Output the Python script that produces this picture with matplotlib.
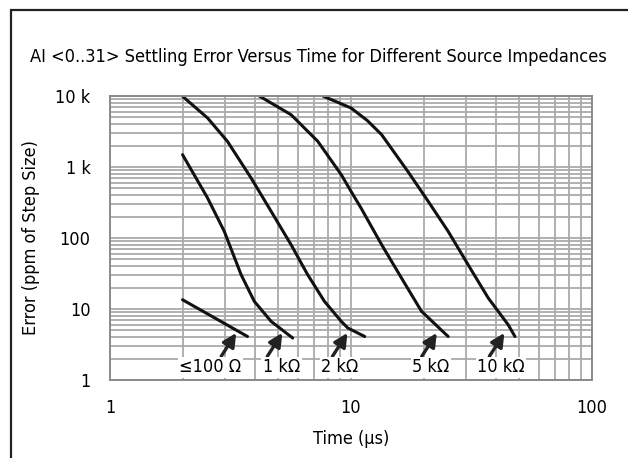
import matplotlib
matplotlib.use("Agg")
import matplotlib.pyplot as plt
from matplotlib import font_manager
from matplotlib.patches import Rectangle

# pick a condensed face if one is installed
narrow = [f for f in font_manager.fontManager.ttflist
          if 'Narrow' in f.name or 'Condensed' in f.name or f.stretch in ('condensed', 'semi-condensed')]
if narrow:
    plt.rcParams['font.family'] = [narrow[0].name, 'DejaVu Sans']
    plt.rcParams['font.stretch'] = narrow[0].stretch
    title_size = 13.1
else:
    plt.rcParams['font.family'] = ['Liberation Sans', 'DejaVu Sans']
    title_size = 11.0

# settling curves (time in us, error in ppm)
t_100 = [2.0, 3.72]
e_100 = [13.5, 4.1]

t_1k = [2.0, 2.54, 2.98, 3.50, 3.97, 4.66, 5.73]
e_1k = [1490, 366, 124, 30.4, 12.8, 6.7, 3.9]

t_2k = [2.0, 2.54, 3.07, 3.85, 4.66, 5.64, 6.61, 7.76, 9.11, 9.70, 11.4]
e_2k = [9900, 4900, 2300, 700, 238, 80.5, 30.4, 12.8, 6.7, 5.4, 4.1]

t_5k = [4.16, 5.64, 7.28, 9.11, 10.0, 11.0, 13.4, 16.2, 19.6, 25.3]
e_5k = [10000, 5450, 2300, 780, 455, 265, 80.5, 27.3, 9.3, 4.1]

t_10k = [7.64, 10.0, 11.7, 13.4, 17.2, 20.9, 25.3, 30.6, 37.1, 44.9, 47.9]
e_10k = [10000, 6780, 4500, 2850, 869, 329, 124, 42.1, 14.3, 6.0, 4.1]

curves = [(t_100, e_100), (t_1k, e_1k), (t_2k, e_2k), (t_5k, e_5k), (t_10k, e_10k)]

labels = ['\u2264100 \u03a9', '1 k\u03a9', '2 k\u03a9', '5 k\u03a9', '10 k\u03a9']
arrow_tip_t = [3.34, 5.19, 9.67, 22.7, 43.3]
label_t = [2.6, 5.15, 9.0, 21.4, 42.0]

y_ticks = [1, 10, 100, 1000, 10000]
y_ticklabels = ['1', '10', '100', '1 k', '10 k']
x_ticks = [1, 10, 100]
x_ticklabels = ['1', '10', '100']

fig = plt.figure(figsize=(6.28, 4.58), dpi=100)
fig.patches.append(Rectangle((11 / 628, -0.1), 1.2, 1 - 10 / 458 + 0.1,
                             transform=fig.transFigure, fill=False,
                             edgecolor='#222222', lw=1.6))

ax = fig.add_axes([110 / 628, 1 - 380 / 458, 482 / 628, 284 / 458])
ax.set_xscale('log')
ax.set_yscale('log')
ax.set_xlim(1, 100)
ax.set_ylim(1, 10000)

ax.grid(True, which='both', color='#aaaaaa', lw=1.3)
ax.set_axisbelow(True)
for s in ax.spines.values():
    s.set_color('#8a8a8a')
    s.set_linewidth(1.4)

for t, e in curves:
    ax.plot(t, e, color='#111111', lw=2.2, solid_capstyle='round', solid_joinstyle='round')

for lab, tip, lt in zip(labels, arrow_tip_t, label_t):
    ax.annotate('', xy=(tip, 4.6), xytext=(tip * 0.866, 2.15),
                arrowprops=dict(arrowstyle='-|>', color='#222222', lw=2.4,
                                mutation_scale=20, shrinkA=0, shrinkB=0))
    ax.text(lt, 1.5, lab, ha='center', va='center', fontsize=13,
            bbox=dict(facecolor='white', edgecolor='none', pad=1.0))

ax.set_xticks(x_ticks)
ax.set_xticklabels(x_ticklabels)
ax.set_yticks(y_ticks)
ax.set_yticklabels(y_ticklabels)
ax.xaxis.set_minor_formatter(matplotlib.ticker.NullFormatter())
ax.yaxis.set_minor_formatter(matplotlib.ticker.NullFormatter())
ax.tick_params(which='both', length=0, labelsize=13)
ax.tick_params(axis='x', pad=14)
ax.tick_params(axis='y', pad=14)

ax.set_xlabel('Time (\u03bcs)', fontsize=13, labelpad=9)
ax.set_ylabel('Error (ppm of Step Size)', fontsize=13, labelpad=11)

fig.text(30 / 628, 1 - 57 / 458, 'AI <0..31> Settling Error Versus Time for Different Source Impedances',
         fontsize=title_size, ha='left', va='center')

fig.savefig('out.png', dpi=100)
